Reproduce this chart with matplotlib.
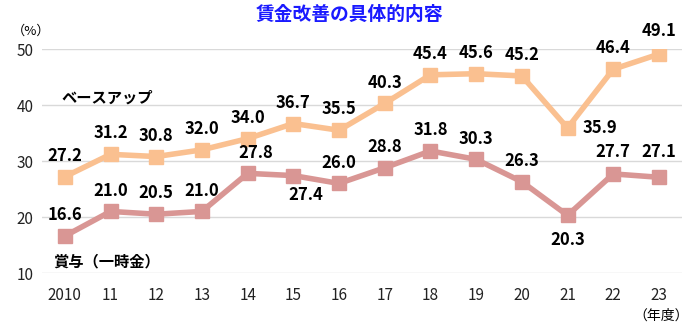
import matplotlib
matplotlib.use("Agg")
import matplotlib.pyplot as plt

plt.rcParams['font.family'] = ['Noto Sans CJK JP', 'DejaVu Sans']

years = ["2010", "11", "12", "13", "14", "15", "16", "17", "18", "19", "20", "21", "22", "23"]
base_up = [27.2, 31.2, 30.8, 32.0, 34.0, 36.7, 35.5, 40.3, 45.4, 45.6, 45.2, 35.9, 46.4, 49.1]
bonus = [16.6, 21.0, 20.5, 21.0, 27.8, 27.4, 26.0, 28.8, 31.8, 30.3, 26.3, 20.3, 27.7, 27.1]

# label offsets in points (dx, dy) relative to each marker
base_offsets = [(0, 15)] * 11 + [(23, 0), (0, 15), (0, 17)]
bonus_offsets = [(0, 15), (0, 15), (0, 15), (0, 15), (6, 15), (9, -14), (0, 15),
                 (0, 15), (0, 15), (0, 15), (0, 15), (0, -18), (0, 16), (0, 18)]

orange = "#FAC090"
pink = "#D99694"

fig = plt.figure(figsize=(7, 3.25), dpi=100)
ax = fig.add_axes([0.06, 0.16, 0.914, 0.689])

x = list(range(len(years)))
ax.plot(x, base_up, color=orange, lw=4, marker="s", ms=10, zorder=3)
ax.plot(x, bonus, color=pink, lw=4, marker="s", ms=10, zorder=3)

for xi, v, (dx, dy) in zip(x, base_up, base_offsets):
    ax.annotate(f"{v:.1f}", (xi, v), xytext=(dx, dy), textcoords="offset points",
                ha="center", va="center", fontsize=12, fontweight="bold")
for xi, v, (dx, dy) in zip(x, bonus, bonus_offsets):
    ax.annotate(f"{v:.1f}", (xi, v), xytext=(dx, dy), textcoords="offset points",
                ha="center", va="center", fontsize=12, fontweight="bold")

ax.set_xlim(-0.5, 13.5)
ax.set_ylim(10, 50)
ax.set_yticks([10, 20, 30, 40, 50])
ax.set_xticks(x)
ax.set_xticklabels(years)
ax.grid(axis="y", color="#D9D9D9", lw=1)
ax.set_axisbelow(True)
for s in ax.spines.values():
    s.set_visible(False)
ax.tick_params(length=0, labelsize=11, labelcolor="#222222")
ax.tick_params(axis="x", pad=10)
ax.tick_params(axis="y", pad=6)

fig.text(0.5, 0.955, "賃金改善の具体的内容", ha="center", va="center",
         fontsize=13.5, fontweight="bold", color="#1A1AFF")
fig.text(0.045, 0.905, "（%）", ha="center", va="center", fontsize=9.5)
fig.text(0.945, 0.03, "（年度）", ha="center", va="center", fontsize=10)
ax.text(-0.08, 41.4, "ベースアップ", ha="left", va="center", fontsize=11, fontweight="bold")
ax.text(-0.25, 12.0, "賞与（一時金）", ha="left", va="center", fontsize=11, fontweight="bold")

fig.savefig("out.png", dpi=100)
